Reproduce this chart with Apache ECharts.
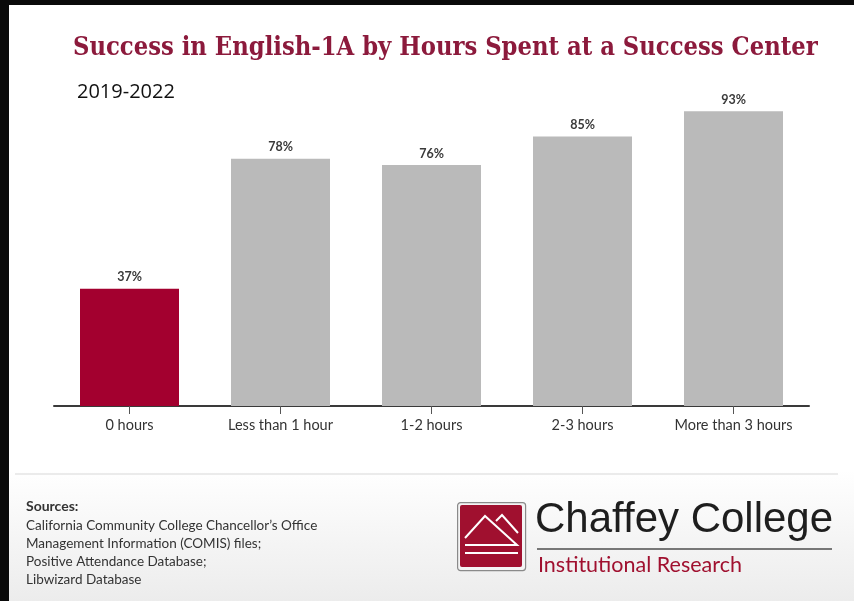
<!DOCTYPE html>
<html>
<head>
<meta charset="utf-8">
<script src="https://cdn.jsdelivr.net/npm/echarts@6/dist/echarts.min.js"></script>
<style>
html,body{margin:0;padding:0;background:#fff;}
#chart{width:854px;height:601px;}
</style>
</head>
<body>
<div id="chart"></div>
<script>
var titleText = 'Success in English-1A by Hours Spent at a Success Center';
var subtitleText = '2019-2022';
var categories = ['0 hours', 'Less than 1 hour', '1-2 hours', '2-3 hours', 'More than 3 hours'];
var successRates = [37, 78, 76, 85, 93];
var highlightCategory = '0 hours';
var sourceLines = [
  'California Community College Chancellor\u2019s Office',
  'Management Information (COMIS) files;',
  'Positive Attendance Database;',
  'Libwizard Database'
];
var logoName = 'Chaffey College';
var logoSub = 'Institutional Research';

var RED = '#a3002f';
var GRAY = '#bababa';

var chart = echarts.init(document.getElementById('chart'), null, {renderer: 'canvas'});

var graphics = [
  {type: 'rect', left: 0, top: 470, z: -10, silent: true,
   shape: {width: 854, height: 131},
   style: {fill: new echarts.graphic.LinearGradient(0, 0, 0, 1, [
     {offset: 0, color: '#ffffff'}, {offset: 1, color: '#ececec'}])}},
  {type: 'line', silent: true, shape: {x1: 15, y1: 474, x2: 838, y2: 474},
   style: {stroke: '#e4e4e4', lineWidth: 1.5}},
  {type: 'text', left: 26, top: 499, silent: true,
   style: {text: 'Sources:', font: 'bold 14px Lato', fill: '#333'}},
  {type: 'text', left: 26, top: 517, silent: true,
   style: {text: sourceLines.join('\n'), font: '13.5px Lato', fill: '#333', lineHeight: 18}},
  // logo box
  {type: 'rect', left: 457, top: 502, silent: true,
   shape: {width: 68, height: 68, r: 3},
   style: {fill: '#f4f4f4', stroke: '#8a8a8a', lineWidth: 1.2}},
  {type: 'rect', left: 460, top: 505, silent: true,
   shape: {width: 62, height: 62, r: 2},
   style: {fill: '#a0102f'}},
  {type: 'polyline', silent: true,
   shape: {points: [[465, 538], [485, 516], [517, 545], [465, 545]]},
   style: {stroke: '#fff', lineWidth: 2, fill: null}},
  {type: 'polyline', silent: true,
   shape: {points: [[496, 521], [502, 515], [518, 533]]},
   style: {stroke: '#fff', lineWidth: 2, fill: null}},
  {type: 'line', silent: true, shape: {x1: 465, y1: 553, x2: 518, y2: 553},
   style: {stroke: '#fff', lineWidth: 2}},
  {type: 'text', left: 535, top: 499, silent: true,
   style: {text: logoName, font: '42px "Liberation Sans"', fill: '#1e1e1e'}},
  {type: 'line', silent: true, shape: {x1: 537, y1: 549, x2: 832, y2: 549},
   style: {stroke: '#777', lineWidth: 2}},
  {type: 'text', left: 538, top: 554, silent: true,
   style: {text: logoSub, font: '21.5px Lato', fill: '#a0102f'}},
  // black frame
  {type: 'rect', left: 0, top: 0, z: 100, silent: true,
   shape: {width: 854, height: 5}, style: {fill: '#0a0a0a'}},
  {type: 'rect', left: 0, top: 0, z: 100, silent: true,
   shape: {width: 9, height: 601}, style: {fill: '#0a0a0a'}}
];

var option = {
  backgroundColor: '#ffffff',
  animation: false,
  title: [
    {text: titleText, left: 68, top: 31,
     textStyle: {fontFamily: '"DejaVu Serif Condensed", "Liberation Serif"', fontWeight: 'bold', fontSize: 25.3, color: '#8c1a3c'}},
    {text: subtitleText, left: 72, top: 77,
     textStyle: {fontFamily: '"Open Sans"', fontWeight: 'normal', fontSize: 20, color: '#111'}}
  ],
  grid: {left: 54, right: 45, top: 89, bottom: 195, containLabel: false},
  xAxis: {
    type: 'category',
    data: categories,
    axisLine: {lineStyle: {color: '#3a3a3a', width: 2}},
    axisTick: {show: true, alignWithLabel: true, length: 8, lineStyle: {color: '#555', width: 1}},
    axisLabel: {interval: 0, color: '#333', fontFamily: 'Lato', fontSize: 14.5, margin: 12}
  },
  yAxis: {type: 'value', min: 0, max: 100, show: false, splitLine: {show: false}},
  series: [{
    type: 'bar',
    data: successRates.map(function (v, i) {
      return {value: v, itemStyle: {color: categories[i] === highlightCategory ? RED : GRAY}};
    }),
    barWidth: 99,
    label: {show: true, position: 'top', distance: 5, formatter: '{c}%',
            fontFamily: 'Lato', fontWeight: 'bold', fontSize: 12.5, color: '#3a3a3a'}
  }],
  graphic: graphics
};
chart.setOption(option);
</script>
</body>
</html>
